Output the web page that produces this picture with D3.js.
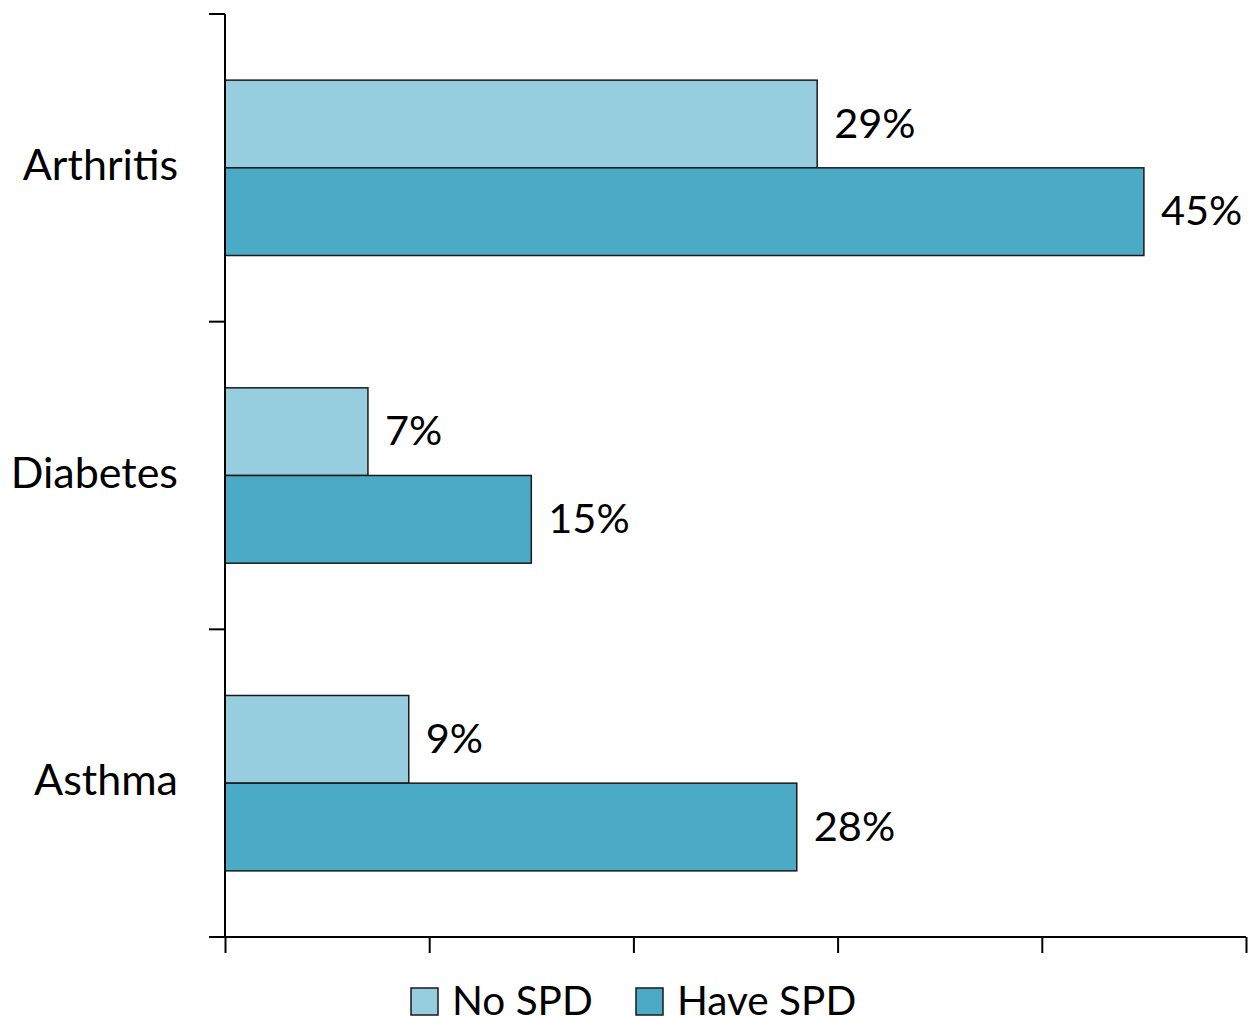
<!DOCTYPE html>
<html>
<head>
<meta charset="utf-8">
<script src="https://cdn.jsdelivr.net/npm/d3@7"></script>
<style>
  html, body { margin: 0; padding: 0; background: #ffffff; }
  svg { display: block; }
  text { font-family: Lato, "Open Sans", sans-serif; fill: #000; }
</style>
</head>
<body>
<svg id="chart" width="1256" height="1018"></svg>
<script>
// Chronic conditions by serious psychological distress (SPD) status
const categories = ["Arthritis", "Diabetes", "Asthma"];
const seriesNames = ["No SPD", "Have SPD"];
const noSpd = [29, 7, 9];
const haveSpd = [45, 15, 28];
const seriesColors = ["#96cddf", "#4babc6"];

const rows = categories.map((c, i) => ({ category: c, values: [noSpd[i], haveSpd[i]] }));

const svg = d3.select("#chart");
const margin = { left: 225, top: 14, right: 10, bottom: 81 };
const width = 1246 - margin.left;
const height = 937 - margin.top;

const g = svg.append("g").attr("transform", `translate(${margin.left},${margin.top})`);

const x = d3.scaleLinear().domain([0, 50]).range([0, width]);
const y0 = d3.scaleBand().domain(categories).range([0, height]).paddingInner(0.43).paddingOuter(0.215);
const y1 = d3.scaleBand().domain([0, 1]).range([0, y0.bandwidth()]);

// bars
const groups = g.selectAll("g.cat").data(rows).join("g")
  .attr("class", "cat")
  .attr("transform", d => `translate(0,${y0(d.category)})`);

groups.selectAll("rect").data(d => d.values.map((v, k) => ({ v, k }))).join("rect")
  .attr("x", 0)
  .attr("y", d => y1(d.k))
  .attr("width", d => x(d.v))
  .attr("height", y1.bandwidth())
  .attr("fill", d => seriesColors[d.k])
  .attr("stroke", "#1a1a1a")
  .attr("stroke-width", 1.5);

groups.selectAll("text.val").data(d => d.values.map((v, k) => ({ v, k }))).join("text")
  .attr("class", "val")
  .attr("x", d => x(d.v) + 17)
  .attr("y", d => y1(d.k) + y1.bandwidth() / 2)
  .attr("dy", "0.33em")
  .attr("font-size", 41.5)
  .text(d => d.v + "%");

// y axis: boundaries between categories as ticks
const yBounds = d3.range(categories.length + 1).map(i => i * height / categories.length);
g.append("line").attr("x1", 0).attr("x2", 0).attr("y1", 0).attr("y2", height)
  .attr("stroke", "#000").attr("stroke-width", 2);
g.selectAll("line.ytick").data(yBounds).join("line")
  .attr("class", "ytick")
  .attr("x1", -16).attr("x2", 0)
  .attr("y1", d => d).attr("y2", d => d)
  .attr("stroke", "#000").attr("stroke-width", 2);

g.selectAll("text.cat").data(categories).join("text")
  .attr("class", "cat")
  .attr("x", -47)
  .attr("y", d => y0(d) + y0.bandwidth() / 2 - 3)
  .attr("dy", "0.35em")
  .attr("text-anchor", "end")
  .attr("font-size", 43)
  .text(d => d);

// x axis
const xAxis = d3.axisBottom(x).tickValues(d3.range(0, 51, 10)).tickSize(16).tickFormat("");
const xg = g.append("g").attr("transform", `translate(0,${height})`).call(xAxis);
xg.select(".domain").attr("stroke", "#000").attr("stroke-width", 2).attr("d", `M-16,0H${width}`);
xg.selectAll(".tick line").attr("stroke", "#000").attr("stroke-width", 2);

// legend
const legend = svg.append("g").attr("transform", "translate(411,988)");
const legendX = [0, 225];
seriesNames.forEach((name, k) => {
  const lg = legend.append("g").attr("transform", `translate(${legendX[k]},0)`);
  lg.append("rect").attr("x", 0).attr("y", 0).attr("width", 27).attr("height", 27)
    .attr("fill", seriesColors[k]).attr("stroke", "#1a1a1a").attr("stroke-width", 1.5);
  lg.append("text").attr("x", 41).attr("y", 13).attr("dy", "0.35em")
    .attr("font-size", 40.5).text(name);
});
</script>
</body>
</html>
